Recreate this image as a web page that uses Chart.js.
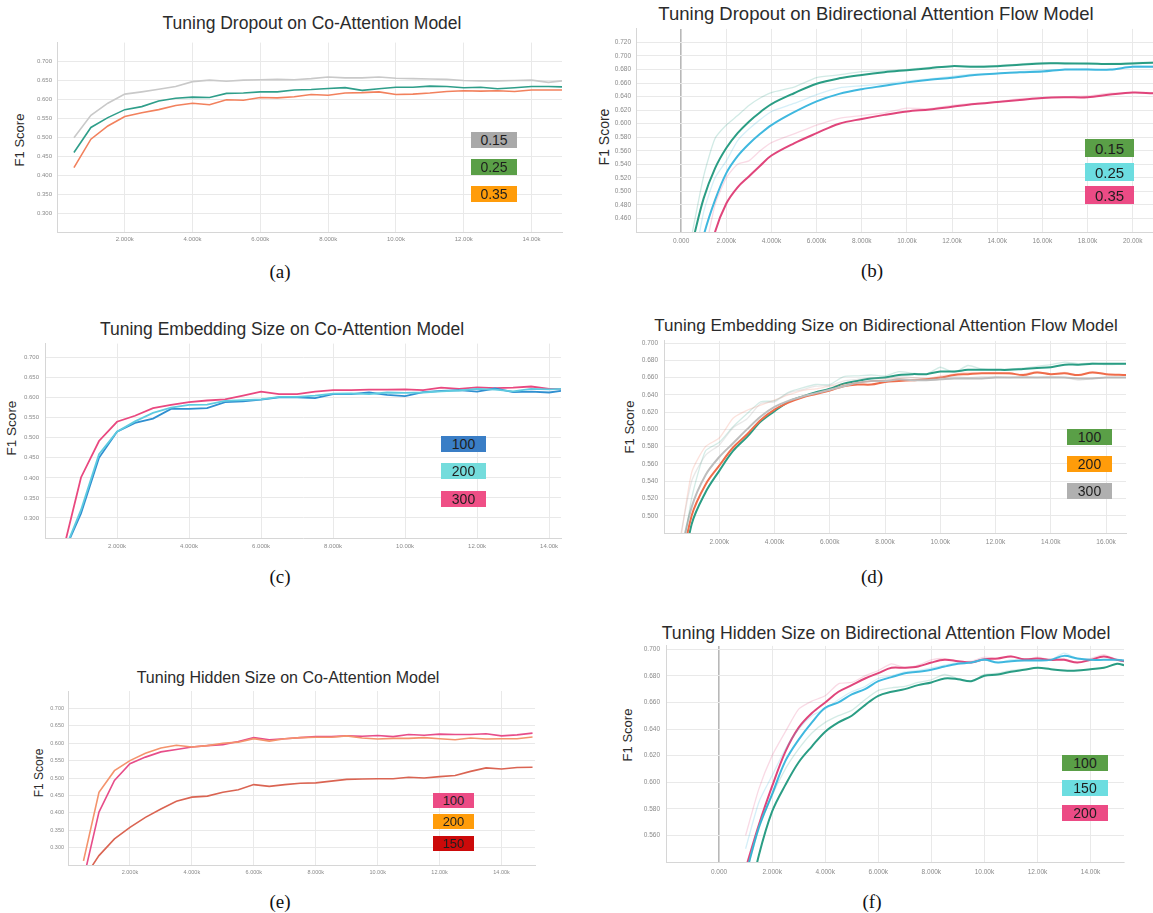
<!DOCTYPE html>
<html>
<head>
<meta charset="utf-8">
<script src="https://cdn.jsdelivr.net/npm/chart.js@4.4.1/dist/chart.umd.min.js"></script>
<style>
  html, body { margin: 0; padding: 0; background: #fff; overflow: hidden; }
  body { width: 1153px; height: 913px; position: relative; font-family: 'Liberation Sans', Arial, sans-serif; }
  canvas { position: absolute; }
  .title { position: absolute; transform: translate(-50%, -50%); white-space: nowrap; color: #2b2b2b; }
  .ylab { position: absolute; transform: translate(-50%, -50%) rotate(-90deg); white-space: nowrap; color: #2b2b2b; }
  .cap { position: absolute; transform: translate(-50%, -50%); font-family: 'Liberation Serif', 'Times New Roman', serif; font-size: 19px; color: #111; }
  .key { position: absolute; display: flex; align-items: center; justify-content: center; color: #1e1e1e; }
</style>
</head>
<body>

<!-- (a) -->
<div class="title" style="left:312px;top:23px;font-size:17.5px">Tuning Dropout on Co-Attention Model</div>
<div class="ylab" style="left:19px;top:140px;font-size:13px">F1 Score</div>
<canvas id="chartA"></canvas>
<div class="key" style="left:471px;top:132px;width:46px;height:16px;background:#a9a9a9;font-size:14px">0.15</div>
<div class="key" style="left:471px;top:159px;width:46px;height:16px;background:#5a9f47;font-size:14px">0.25</div>
<div class="key" style="left:471px;top:186px;width:46px;height:16px;background:#ff9c0a;font-size:14px">0.35</div>
<div class="cap" style="left:280px;top:272px">(a)</div>

<!-- (b) -->
<div class="title" style="left:876px;top:14px;font-size:18.5px">Tuning Dropout on Bidirectional Attention Flow Model</div>
<div class="ylab" style="left:604px;top:137px;font-size:14px">F1 Score</div>
<canvas id="chartB"></canvas>
<div class="key" style="left:1085px;top:139px;width:49px;height:18px;background:#5a9f47;font-size:15px">0.15</div>
<div class="key" style="left:1085px;top:163px;width:49px;height:18px;background:#6cdde0;font-size:15px">0.25</div>
<div class="key" style="left:1085px;top:186px;width:49px;height:18px;background:#ec4b85;font-size:15px">0.35</div>
<div class="cap" style="left:872px;top:271px">(b)</div>

<!-- (c) -->
<div class="title" style="left:282px;top:329px;font-size:17.5px">Tuning Embedding Size on Co-Attention Model</div>
<div class="ylab" style="left:11px;top:428px;font-size:13.5px">F1 Score</div>
<canvas id="chartC"></canvas>
<div class="key" style="left:441px;top:436px;width:45px;height:16px;background:#3a7ec6;font-size:14px">100</div>
<div class="key" style="left:441px;top:463px;width:45px;height:16px;background:#74dcdc;font-size:14px">200</div>
<div class="key" style="left:441px;top:491px;width:45px;height:16px;background:#ef4f86;font-size:14px">300</div>
<div class="cap" style="left:280px;top:577px">(c)</div>

<!-- (d) -->
<div class="title" style="left:886px;top:326px;font-size:17px">Tuning Embedding Size on Bidirectional Attention Flow Model</div>
<div class="ylab" style="left:629px;top:427px;font-size:13px">F1 Score</div>
<canvas id="chartD"></canvas>
<div class="key" style="left:1067px;top:429px;width:45px;height:16px;background:#5a9f47;font-size:14px">100</div>
<div class="key" style="left:1067px;top:456px;width:45px;height:16px;background:#ff9c0a;font-size:14px">200</div>
<div class="key" style="left:1067px;top:483px;width:45px;height:16px;background:#b0b0b0;font-size:14px">300</div>
<div class="cap" style="left:872px;top:577px">(d)</div>

<!-- (e) -->
<div class="title" style="left:288px;top:678px;font-size:16px">Tuning Hidden Size on Co-Attention Model</div>
<div class="ylab" style="left:39px;top:773px;font-size:12px">F1 Score</div>
<canvas id="chartE"></canvas>
<div class="key" style="left:433px;top:793px;width:41px;height:15px;background:#ec4b85;font-size:13px">100</div>
<div class="key" style="left:433px;top:814px;width:41px;height:15px;background:#ff9c0a;font-size:13px">200</div>
<div class="key" style="left:433px;top:836px;width:41px;height:15px;background:#cc0a0a;font-size:13px">150</div>
<div class="cap" style="left:280px;top:902px">(e)</div>

<!-- (f) -->
<div class="title" style="left:886px;top:633px;font-size:17.7px">Tuning Hidden Size on Bidirectional Attention Flow Model</div>
<div class="ylab" style="left:627px;top:735px;font-size:13px">F1 Score</div>
<canvas id="chartF"></canvas>
<div class="key" style="left:1062px;top:755px;width:46px;height:16px;background:#5a9f47;font-size:14px">100</div>
<div class="key" style="left:1062px;top:780px;width:46px;height:16px;background:#6cdde0;font-size:14px">150</div>
<div class="key" style="left:1062px;top:805px;width:46px;height:16px;background:#ec4b85;font-size:14px">200</div>
<div class="cap" style="left:872px;top:902px">(f)</div>

<script>
// ---- (a) dropout, co-attention ----
const stepsA = [500,1000,1500,2000,2500,3000,3500,4000,4500,5000,5500,6000,6500,7000,7500,8000,8500,9000,9500,10000,10500,11000,11500,12000,12500,13000,13500,14000,14500,14900];
const dropA015 = [0.499,0.558,0.590,0.614,0.620,0.627,0.634,0.647,0.651,0.648,0.651,0.652,0.653,0.652,0.655,0.659,0.657,0.657,0.659,0.656,0.655,0.654,0.653,0.650,0.649,0.649,0.650,0.651,0.645,0.649];
const dropA025 = [0.460,0.526,0.552,0.573,0.581,0.596,0.603,0.606,0.605,0.616,0.617,0.620,0.620,0.625,0.626,0.629,0.631,0.624,0.628,0.632,0.632,0.635,0.634,0.631,0.632,0.628,0.631,0.634,0.634,0.633];
const dropA035 = [0.420,0.495,0.530,0.555,0.565,0.573,0.584,0.590,0.586,0.599,0.598,0.605,0.604,0.607,0.613,0.611,0.617,0.618,0.620,0.613,0.614,0.617,0.621,0.623,0.622,0.623,0.621,0.625,0.625,0.625];
const xTicksA = [2000,4000,6000,8000,10000,12000,14000];
const yTicksA = [0.30,0.35,0.40,0.45,0.50,0.55,0.60,0.65,0.70];

// ---- (b) dropout, BiDAF (smoothed + raw) ----
const stepsB = [500,1000,1500,2000,2500,3000,3500,4000,5000,6000,7000,8000,9000,10000,11000,12000,13000,14000,15000,16000,17000,18000,19000,20000,20900];
const dropB015 = [0.425,0.490,0.534,0.564,0.586,0.603,0.617,0.629,0.645,0.659,0.667,0.672,0.676,0.679,0.682,0.685,0.684,0.685,0.687,0.689,0.689,0.689,0.688,0.689,0.690];
const dropB025 = [0.360,0.435,0.487,0.527,0.552,0.570,0.585,0.598,0.617,0.633,0.644,0.651,0.656,0.661,0.665,0.668,0.672,0.674,0.676,0.677,0.680,0.680,0.680,0.684,0.684];
const dropB035 = [0.300,0.370,0.440,0.482,0.506,0.522,0.538,0.553,0.571,0.586,0.600,0.607,0.613,0.618,0.621,0.625,0.629,0.632,0.635,0.638,0.639,0.639,0.643,0.646,0.645];
const rawB015 = [0.440,0.523,0.578,0.598,0.612,0.627,0.638,0.646,0.654,0.668,0.672,0.677,0.678,0.680,0.683,0.685,0.685,0.686,0.688,0.690,0.690,0.688,0.689,0.690,0.691];
const rawB025 = [0.380,0.470,0.520,0.545,0.575,0.592,0.606,0.618,0.630,0.643,0.653,0.656,0.659,0.663,0.666,0.670,0.673,0.674,0.677,0.679,0.680,0.681,0.679,0.685,0.685];
const rawB035 = [0.320,0.400,0.480,0.520,0.540,0.545,0.560,0.572,0.585,0.598,0.608,0.612,0.616,0.623,0.622,0.627,0.630,0.632,0.637,0.638,0.640,0.641,0.645,0.646,0.646];
const xTicksB = [0,2000,4000,6000,8000,10000,12000,14000,16000,18000,20000];
const yTicksB = [0.46,0.48,0.50,0.52,0.54,0.56,0.58,0.60,0.62,0.64,0.66,0.68,0.70,0.72];

// ---- (c) embedding size, co-attention ----
const stepsC = [500,1000,1500,2000,2500,3000,3500,4000,4500,5000,5500,6000,6500,7000,7500,8000,8500,9000,9500,10000,10500,11000,11500,12000,12500,13000,13500,14000,14330];
const embC100 = [0.210,0.311,0.450,0.515,0.537,0.548,0.572,0.572,0.574,0.589,0.591,0.595,0.601,0.601,0.599,0.609,0.609,0.613,0.607,0.604,0.614,0.617,0.619,0.615,0.623,0.614,0.615,0.613,0.617];
const embC200 = [0.210,0.320,0.459,0.515,0.541,0.562,0.575,0.582,0.583,0.592,0.594,0.596,0.602,0.602,0.605,0.610,0.611,0.609,0.613,0.612,0.613,0.616,0.618,0.622,0.620,0.616,0.622,0.621,0.622];
const embC300 = [0.217,0.401,0.492,0.540,0.555,0.574,0.582,0.589,0.593,0.596,0.605,0.615,0.609,0.609,0.615,0.619,0.619,0.620,0.620,0.621,0.619,0.625,0.622,0.626,0.624,0.625,0.628,0.622,0.622];
const xTicksC = [2000,4000,6000,8000,10000,12000,14000];
const yTicksC = [0.30,0.35,0.40,0.45,0.50,0.55,0.60,0.65,0.70];

// ---- (d) embedding size, BiDAF (smoothed + raw) ----
const stepsD = [500,1000,1500,2000,2500,3000,3500,4000,4500,5000,5500,6000,6500,7000,7500,8000,8500,9000,9500,10000,10500,11000,11500,12000,12500,13000,13500,14000,14500,15000,15500,16000,16720];
const embD100 = [0.400,0.490,0.527,0.552,0.575,0.591,0.609,0.621,0.632,0.638,0.643,0.647,0.653,0.656,0.659,0.660,0.663,0.664,0.664,0.667,0.667,0.669,0.669,0.669,0.669,0.670,0.671,0.672,0.675,0.675,0.676,0.676,0.676];
const embD200 = [0.420,0.500,0.536,0.558,0.579,0.594,0.611,0.623,0.631,0.637,0.641,0.645,0.650,0.652,0.652,0.655,0.656,0.657,0.658,0.660,0.663,0.664,0.665,0.665,0.665,0.663,0.666,0.664,0.665,0.663,0.666,0.664,0.663];
const embD300 = [0.440,0.510,0.547,0.568,0.584,0.600,0.615,0.626,0.633,0.638,0.642,0.646,0.650,0.654,0.656,0.656,0.658,0.657,0.657,0.658,0.659,0.659,0.659,0.660,0.660,0.660,0.660,0.660,0.660,0.659,0.659,0.660,0.660];
const rawD100 = [0.420,0.520,0.575,0.585,0.603,0.618,0.632,0.633,0.643,0.648,0.652,0.652,0.661,0.662,0.663,0.662,0.667,0.665,0.664,0.672,0.666,0.674,0.670,0.669,0.670,0.671,0.673,0.675,0.678,0.676,0.677,0.675,0.676];
const rawD200 = [0.450,0.550,0.580,0.590,0.613,0.622,0.628,0.634,0.640,0.645,0.647,0.650,0.652,0.654,0.656,0.658,0.659,0.660,0.659,0.662,0.664,0.666,0.665,0.666,0.664,0.664,0.667,0.664,0.666,0.663,0.667,0.664,0.663];
const rawD300 = [0.460,0.540,0.570,0.582,0.602,0.612,0.630,0.632,0.642,0.646,0.650,0.651,0.656,0.658,0.660,0.659,0.661,0.660,0.658,0.660,0.661,0.660,0.661,0.661,0.660,0.661,0.660,0.661,0.660,0.657,0.659,0.660,0.660];
const xTicksD = [2000,4000,6000,8000,10000,12000,14000,16000];
const yTicksD = [0.50,0.52,0.54,0.56,0.58,0.60,0.62,0.64,0.66,0.68,0.70];

// ---- (e) hidden size, co-attention ----
const stepsE = [500,1000,1500,2000,2500,3000,3500,4000,4500,5000,5500,6000,6500,7000,7500,8000,8500,9000,9500,10000,10500,11000,11500,12000,12500,13000,13500,14000,14500,15000];
const hidE100 = [0.210,0.402,0.493,0.541,0.560,0.575,0.582,0.589,0.593,0.596,0.605,0.616,0.610,0.613,0.616,0.619,0.619,0.621,0.620,0.622,0.619,0.625,0.623,0.626,0.625,0.625,0.627,0.621,0.624,0.629];
const hidE200 = [0.262,0.459,0.521,0.550,0.571,0.586,0.594,0.589,0.593,0.600,0.603,0.613,0.606,0.613,0.616,0.617,0.617,0.621,0.615,0.612,0.614,0.614,0.616,0.613,0.610,0.615,0.612,0.613,0.613,0.618];
const hidE150 = [0.210,0.277,0.325,0.358,0.387,0.411,0.433,0.445,0.448,0.459,0.466,0.481,0.476,0.481,0.485,0.486,0.491,0.496,0.497,0.498,0.498,0.502,0.500,0.504,0.507,0.519,0.529,0.526,0.530,0.531];
const xTicksE = [2000,4000,6000,8000,10000,12000,14000];
const yTicksE = [0.30,0.35,0.40,0.45,0.50,0.55,0.60,0.65,0.70];

// ---- (f) hidden size, BiDAF (smoothed + raw) ----
const stepsF = [1000,1500,2000,2500,3000,3500,4000,4500,5000,5500,6000,6500,7000,7500,8000,8500,9000,9500,10000,10500,11000,11500,12000,12500,13000,13500,14000,14500,15000,15260];
const hidF100 = [0.500,0.545,0.578,0.598,0.615,0.627,0.638,0.645,0.650,0.658,0.665,0.668,0.670,0.673,0.675,0.678,0.6775,0.676,0.680,0.681,0.683,0.6845,0.686,0.685,0.684,0.684,0.685,0.686,0.689,0.688];
const hidF150 = [0.530,0.566,0.591,0.616,0.632,0.645,0.656,0.660,0.666,0.670,0.676,0.679,0.682,0.683,0.6845,0.687,0.689,0.690,0.692,0.690,0.691,0.6915,0.6915,0.692,0.695,0.693,0.692,0.692,0.692,0.6915];
const hidF200 = [0.535,0.568,0.597,0.623,0.641,0.652,0.660,0.668,0.673,0.678,0.682,0.686,0.686,0.687,0.690,0.692,0.691,0.690,0.6925,0.693,0.6945,0.6925,0.693,0.692,0.692,0.690,0.692,0.6945,0.692,0.691];
const rawF100 = [0.530,0.565,0.590,0.610,0.625,0.637,0.645,0.650,0.654,0.662,0.669,0.671,0.672,0.675,0.677,0.681,0.678,0.676,0.681,0.682,0.684,0.685,0.686,0.685,0.684,0.684,0.685,0.686,0.689,0.688];
const rawF150 = [0.550,0.585,0.605,0.625,0.640,0.650,0.655,0.662,0.668,0.672,0.678,0.680,0.683,0.684,0.686,0.688,0.690,0.690,0.693,0.690,0.692,0.692,0.692,0.692,0.697,0.693,0.692,0.692,0.692,0.692];
const rawF200 = [0.560,0.595,0.620,0.638,0.655,0.661,0.665,0.674,0.675,0.680,0.684,0.689,0.686,0.688,0.692,0.693,0.691,0.691,0.694,0.693,0.695,0.692,0.694,0.692,0.693,0.690,0.693,0.696,0.692,0.691];
const xTicksF = [0,2000,4000,6000,8000,10000,12000,14000];
const yTicksF = [0.56,0.58,0.60,0.62,0.64,0.66,0.68,0.70];

const FONT = "'Liberation Sans', Arial, sans-serif";

function fmtStep(v) {
  return v === 0 ? '0.000' : (v / 1000).toPrecision(4) + 'k';
}

// box = plot area in page pixels; canvas is sized so chartArea lands exactly there
function makeChart(id, box, xr, yr, xt, yt, sets, f) {
  const ml = 30, mb = 22, pt = 8;
  const pr = box.r > 1140 ? 0 : 8;
  const cv = document.getElementById(id);
  cv.width = box.r - box.l + ml + pr;
  cv.height = box.b - box.t + pt + mb;
  cv.style.left = (box.l - ml) + 'px';
  cv.style.top = (box.t - pt) + 'px';

  new Chart(cv, {
    type: 'line',
    data: {
      datasets: sets.map(s => ({
        data: s.steps.map((x, i) => ({ x: x, y: s.vals[i] })),
        borderColor: s.color,
        borderWidth: s.w,
        pointRadius: 0,
        tension: s.t || 0,
        fill: false
      }))
    },
    options: {
      responsive: false,
      animation: false,
      events: [],
      layout: { padding: { top: pt, right: pr, left: 0, bottom: 0 } },
      plugins: { legend: { display: false }, tooltip: { enabled: false } },
      scales: {
        x: {
          type: 'linear', min: xr[0], max: xr[1],
          afterBuildTicks: sc => { sc.ticks = xt.map(v => ({ value: v })); },
          afterFit: sc => { sc.height = mb; },
          grid: {
            color: c => (c.tick && c.tick.value === 0) ? '#b8b8b8' : '#e9e9e9',
            lineWidth: c => (c.tick && c.tick.value === 0) ? 1.6 : 1,
            drawTicks: false
          },
          border: { color: '#d6d6d6' },
          ticks: {
            padding: f.xpad, color: '#8a8a8a', maxRotation: 0, autoSkip: false,
            font: { size: f.tick, family: FONT },
            callback: v => fmtStep(v)
          }
        },
        y: {
          type: 'linear', min: yr[0], max: yr[1],
          afterBuildTicks: sc => { sc.ticks = yt.map(v => ({ value: v })); },
          afterFit: sc => { sc.width = ml; },
          grid: { color: '#e9e9e9', drawTicks: false },
          border: { color: '#d6d6d6' },
          ticks: {
            padding: f.ypad, color: '#8a8a8a', autoSkip: false,
            font: { size: f.tick, family: FONT },
            callback: v => v.toFixed(3)
          }
        }
      }
    }
  });
}

makeChart('chartA', { l: 57, t: 42, r: 562, b: 232 }, [0, 14900], [0.25, 0.75], xTicksA, yTicksA, [
  { steps: stepsA, vals: dropA015, color: '#c9c9c9', w: 1.6 },
  { steps: stepsA, vals: dropA025, color: '#2f9e8a', w: 1.6 },
  { steps: stepsA, vals: dropA035, color: '#f2815d', w: 1.6 }
], { tick: 6, xpad: 4, ypad: 5 });

makeChart('chartB', { l: 636, t: 28, r: 1153, b: 232 }, [-2000, 20900], [0.44, 0.74], xTicksB, yTicksB, [
  { steps: stepsB, vals: rawB015, color: 'rgba(47,158,138,0.22)', w: 1.3, t: 0.2 },
  { steps: stepsB, vals: rawB025, color: 'rgba(64,184,223,0.22)', w: 1.3, t: 0.2 },
  { steps: stepsB, vals: rawB035, color: 'rgba(224,69,123,0.2)', w: 1.3, t: 0.2 },
  { steps: stepsB, vals: dropB015, color: '#2a9d84', w: 2, t: 0.35 },
  { steps: stepsB, vals: dropB025, color: '#3fb8df', w: 2, t: 0.35 },
  { steps: stepsB, vals: dropB035, color: '#e0457b', w: 2, t: 0.35 }
], { tick: 6.5, xpad: 5.5, ypad: 5 });

makeChart('chartC', { l: 45, t: 342, r: 561, b: 538 }, [0, 14330], [0.25, 0.735], xTicksC, yTicksC, [
  { steps: stepsC, vals: embC200, color: '#5fcbe0', w: 1.8 },
  { steps: stepsC, vals: embC100, color: '#2f8fd0', w: 1.8 },
  { steps: stepsC, vals: embC300, color: '#e9487f', w: 1.8 }
], { tick: 6, xpad: 5, ypad: 6 });

makeChart('chartD', { l: 664, t: 339, r: 1126, b: 533 }, [0, 16720], [0.48, 0.7025], xTicksD, yTicksD, [
  { steps: stepsD, vals: rawD300, color: 'rgba(180,180,180,0.3)', w: 1.3, t: 0.2 },
  { steps: stepsD, vals: rawD200, color: 'rgba(240,112,80,0.2)', w: 1.3, t: 0.2 },
  { steps: stepsD, vals: rawD100, color: 'rgba(42,157,132,0.2)', w: 1.3, t: 0.2 },
  { steps: stepsD, vals: embD300, color: '#bdbdbd', w: 2, t: 0.35 },
  { steps: stepsD, vals: embD200, color: '#ef6c4a', w: 2, t: 0.35 },
  { steps: stepsD, vals: embD100, color: '#2a9d84', w: 2, t: 0.35 }
], { tick: 6.5, xpad: 5.5, ypad: 6 });

makeChart('chartE', { l: 68, t: 691, r: 535, b: 865 }, [0, 15080], [0.25, 0.75], xTicksE, yTicksE, [
  { steps: stepsE, vals: hidE150, color: '#da6452', w: 1.6 },
  { steps: stepsE, vals: hidE200, color: '#f4936c', w: 1.6 },
  { steps: stepsE, vals: hidE100, color: '#e74d89', w: 1.6 }
], { tick: 5.5, xpad: 4, ypad: 4 });

makeChart('chartF', { l: 666, t: 644, r: 1124, b: 862 }, [-2000, 15260], [0.54, 0.7025], xTicksF, yTicksF, [
  { steps: stepsF, vals: rawF100, color: 'rgba(42,157,132,0.2)', w: 1.3, t: 0.2 },
  { steps: stepsF, vals: rawF150, color: 'rgba(64,184,223,0.22)', w: 1.3, t: 0.2 },
  { steps: stepsF, vals: rawF200, color: 'rgba(224,69,123,0.2)', w: 1.3, t: 0.2 },
  { steps: stepsF, vals: hidF100, color: '#2a9d84', w: 2, t: 0.35 },
  { steps: stepsF, vals: hidF150, color: '#3fb8df', w: 2, t: 0.35 },
  { steps: stepsF, vals: hidF200, color: '#e0457b', w: 2, t: 0.35 }
], { tick: 6.5, xpad: 6.5, ypad: 6 });
</script>
</body>
</html>
